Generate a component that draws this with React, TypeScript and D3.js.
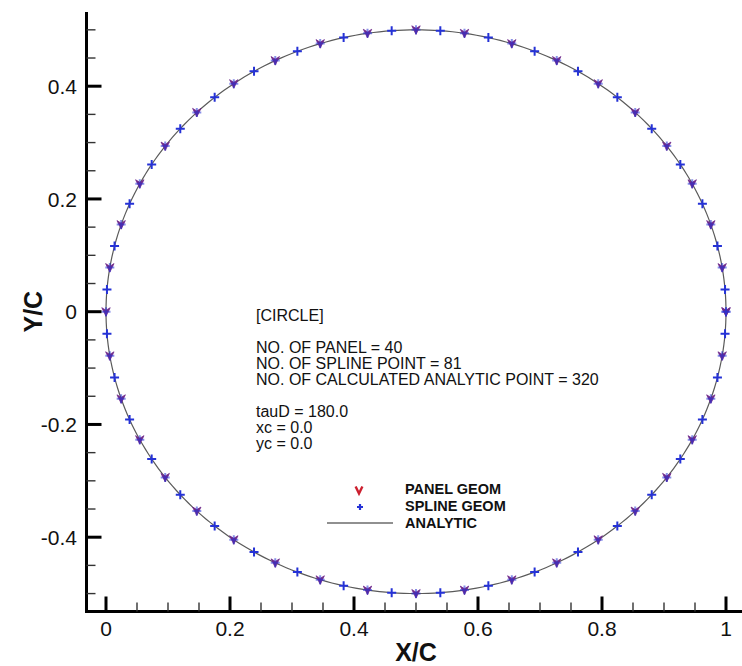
import React from "react";
import * as d3 from "d3";

// Geometry parameters printed in the info block
const chord = 1.0;
const xc = 0.0;
const yc = 0.0;
const tauD = 180.0;
const panelCount = 40;
const splinePointCount = 81;
const analyticPointCount = 320;

const xTicks = [0, 0.2, 0.4, 0.6, 0.8, 1];
const xTickLabels = ["0", "0.2", "0.4", "0.6", "0.8", "1"];
const yTicks = [-0.4, -0.2, 0, 0.2, 0.4];
const yTickLabels = ["-0.4", "-0.2", "0", "0.2", "0.4"];

const infoLines = [
  "[CIRCLE]",
  "",
  `NO. OF PANEL = ${panelCount}`,
  `NO. OF SPLINE POINT = ${splinePointCount}`,
  `NO. OF CALCULATED ANALYTIC POINT = ${analyticPointCount}`,
  "",
  `tauD = ${tauD.toFixed(1)}`,
  `xc = ${xc.toFixed(1)}`,
  `yc = ${yc.toFixed(1)}`,
];

const legendLabels = ["PANEL GEOM", "SPLINE GEOM", "ANALYTIC"];

const W = 742;
const H = 666;

const FONT = "'Liberation Sans', Arial, Helvetica, sans-serif";
const RED = "#cc1f2e";
const BLUE = "#2532d6";
// panel symbols sit on top of spline symbols, so on the curve they read as a mix
const OVERLAP = d3.interpolateRgb(RED, BLUE)(0.55);

// Points around a circle of diameter = chord, starting at the trailing edge
function circlePoints(n: number, closed: boolean): [number, number][] {
  const cx = xc + chord / 2;
  const r = chord / 2;
  const pts: [number, number][] = [];
  const count = closed ? n : n - 1;
  for (let i = 0; i <= count; i++) {
    const t = (i / count) * 2 * Math.PI;
    pts.push([cx + r * Math.cos(t), yc + r * Math.sin(t)]);
  }
  return pts;
}

export default function App() {
  const x = d3.scaleLinear().domain([0, 1]).range([106, 726]);
  const y = d3.scaleLinear().domain([-0.4, 0.4]).range([537.2, 86.2]);

  const axisLeft = 86.5;
  const axisBottom = 611.5;
  const axisTop = 12;
  const axisRight = W;

  const panelPts = circlePoints(panelCount, true);
  const splinePts = circlePoints(splinePointCount, false);
  const analyticPts = circlePoints(analyticPointCount, true);

  const line = d3
    .line<[number, number]>()
    .x((d) => x(d[0]))
    .y((d) => y(d[1]));

  const xMinor = d3.range(0.05, 1.0001, 0.05).filter((v) => !xTicks.some((t) => Math.abs(t - v) < 1e-6));
  const yMinor = d3.range(-0.5, 0.5001, 0.05).filter((v) => !yTicks.some((t) => Math.abs(t - v) < 1e-6));

  // notched down-pointing "v" symbol
  const vShape = "M-4.2,-4 L0,-1.4 L4.2,-4 L0,4.6 Z";
  const plusPath = "M-4.5,0 H4.5 M0,-4.5 V4.5";

  const textX = 256;
  const textY0 = 321;
  const lineH = 16;

  return (
    <svg
      width={W}
      height={H}
      style={{ position: "absolute", left: 0, top: 0, background: "#fff" }}
      fontFamily={FONT}
    >
      <rect width={W} height={H} fill="#fff" />

      {/* analytic curve */}
      <path d={line(analyticPts) ?? ""} fill="none" stroke="#5a5a5a" strokeWidth={1.2} />

      {/* panel geometry markers */}
      {panelPts.map((p, i) => (
        <path
          key={`p${i}`}
          d={vShape}
          transform={`translate(${x(p[0])},${y(p[1])})`}
          fill={OVERLAP}
          stroke={OVERLAP}
          strokeWidth={0.8}
          strokeLinejoin="round"
        />
      ))}

      {/* spline geometry markers */}
      {splinePts.map((p, i) => (
        <path
          key={`s${i}`}
          d={plusPath}
          transform={`translate(${x(p[0])},${y(p[1])})`}
          stroke={BLUE}
          strokeWidth={2}
          strokeOpacity={i % 2 === 0 ? 0.55 : 1}
          fill="none"
        />
      ))}

      {/* axes */}
      <line x1={axisLeft} x2={axisLeft} y1={axisTop} y2={axisBottom + 1.5} stroke="#000" strokeWidth={3} />
      <line x1={axisLeft - 1.5} x2={axisRight} y1={axisBottom} y2={axisBottom} stroke="#000" strokeWidth={3} />

      {xMinor.map((v) => (
        <line key={`xm${v}`} x1={x(v)} x2={x(v)} y1={axisBottom} y2={axisBottom - 9} stroke="#333" strokeWidth={1.4} />
      ))}
      {yMinor.map((v) => (
        <line key={`ym${v}`} x1={axisLeft} x2={axisLeft + 9} y1={y(v)} y2={y(v)} stroke="#333" strokeWidth={1.4} />
      ))}
      {xTicks.map((v, i) => (
        <g key={`xt${v}`}>
          <line x1={x(v)} x2={x(v)} y1={axisBottom} y2={axisBottom - 15} stroke="#000" strokeWidth={3} />
          <text x={x(v)} y={636} textAnchor="middle" fontSize={21} fill="#111">
            {xTickLabels[i]}
          </text>
        </g>
      ))}
      {yTicks.map((v, i) => (
        <g key={`yt${v}`}>
          <line x1={axisLeft} x2={axisLeft + 15} y1={y(v)} y2={y(v)} stroke="#000" strokeWidth={3} />
          <text x={77} y={y(v)} dy="0.36em" textAnchor="end" fontSize={21} fill="#111">
            {yTickLabels[i]}
          </text>
        </g>
      ))}

      {/* axis titles */}
      <text x={416} y={661} textAnchor="middle" fontSize={25} fontWeight="bold" fill="#111">
        X/C
      </text>
      <text
        transform={`translate(42,${y(0)}) rotate(-90)`}
        textAnchor="middle"
        fontSize={25}
        fontWeight="bold"
        fill="#111"
      >
        Y/C
      </text>

      {/* info block */}
      {infoLines.map((s, i) =>
        s ? (
          <text key={`info${i}`} x={textX} y={textY0 + i * lineH} fontSize={16} fill="#111">
            {s}
          </text>
        ) : null
      )}

      {/* legend */}
      <g>
        <path d="M-3.4,-3.4 L0,3.6 L3.4,-3.4" transform="translate(359,490)" stroke={RED} strokeWidth={2.4} fill="none" />
        <path d="M-3,0 H3 M0,-3 V3" transform="translate(360,507)" stroke={BLUE} strokeWidth={2.2} fill="none" />
        <line x1={327} x2={393} y1={523} y2={523} stroke="#222" strokeWidth={1.2} />
        {legendLabels.map((s, i) => (
          <text key={s} x={405} y={494 + i * 16.8} fontSize={14.5} fontWeight="bold" fill="#111">
            {s}
          </text>
        ))}
      </g>
    </svg>
  );
}
